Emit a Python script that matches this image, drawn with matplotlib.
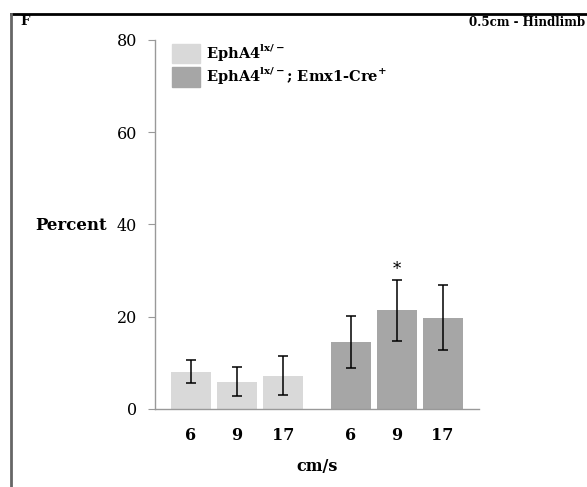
import matplotlib.pyplot as plt
from matplotlib.patches import Patch
from matplotlib.lines import Line2D

# data
speeds = ['6', '9', '17']
ctrl_mean = [8.1, 5.9, 7.2]
ctrl_err = [2.5, 3.1, 4.2]
mut_mean = [14.5, 21.4, 19.8]
mut_err = [5.7, 6.6, 7.0]
yticks = [0, 20, 40, 60, 80]

light = '#d9d9d9'
dark = '#a6a6a6'
plt.rcParams['font.family'] = ['DejaVu Serif']

fig = plt.figure(figsize=(5.87, 4.87), dpi=100)
ax = fig.add_axes([0.264, 0.1602, 0.552, 0.7577])

x1 = [0, 1, 2]
x2 = [3.47, 4.47, 5.47]
w = 0.87
ax.bar(x1, ctrl_mean, w, color=light)
ax.bar(x2, mut_mean, w, color=dark)
ax.errorbar(x1, ctrl_mean, yerr=ctrl_err, fmt='none', ecolor='black',
            elinewidth=1.1, capsize=3.5, capthick=1.1)
ax.errorbar(x2, mut_mean, yerr=mut_err, fmt='none', ecolor='black',
            elinewidth=1.1, capsize=3.5, capthick=1.1)
ax.text(x2[1], mut_mean[1] + mut_err[1] + 0.3, '*', ha='center', va='bottom',
        fontsize=12)

ax.set_xlim(-0.78, 6.26)
ax.set_ylim(0, 80)
ax.set_yticks(yticks)
ax.set_yticklabels([str(v) for v in yticks], fontsize=11.5)
ax.set_xticks(x1 + x2)
ax.set_xticklabels(speeds + speeds, fontsize=11.5, fontweight='bold')
ax.tick_params(axis='x', length=0, pad=13)
ax.tick_params(axis='y', length=5, color='#999999', pad=8)
for s in ['top', 'right']:
    ax.spines[s].set_visible(False)
for s in ['left', 'bottom']:
    ax.spines[s].set_color('#999999')
    ax.spines[s].set_linewidth(1.0)

ax.set_xlabel('cm/s', fontsize=11.5, fontweight='bold', labelpad=10)
fig.text(35 / 587, 1 - 226 / 487, 'Percent', fontsize=12, fontweight='bold',
         va='center', ha='left')

handles = [Patch(color=light), Patch(color=dark)]
labels = [r'EphA4$^{\mathregular{lx/-}}$',
          r'EphA4$^{\mathregular{lx/-}}$; Emx1-Cre$^{\mathregular{+}}$']
ax.legend(handles, labels, loc='upper left', bbox_to_anchor=(0.035, 1.01),
          frameon=False, prop={'size': 10.5, 'weight': 'bold'},
          handlelength=1.9, handleheight=1.7, handletextpad=0.4,
          labelspacing=0.15, borderaxespad=0)

# figure panel frame and labels
fig.add_artist(Line2D([11 / 587, 1], [1 - 14 / 487, 1 - 14 / 487],
                      color='black', lw=2))
fig.add_artist(Line2D([11 / 587, 11 / 587], [0, 1 - 14 / 487],
                      color='#666666', lw=2))
fig.text(20 / 587, 1 - 25 / 487, 'F', fontsize=9.5, fontweight='bold')
fig.text(585 / 587, 1 - 26 / 487, '0.5cm - Hindlimb', fontsize=8.6,
         fontweight='bold', ha='right')

fig.savefig('out.png', dpi=100)
